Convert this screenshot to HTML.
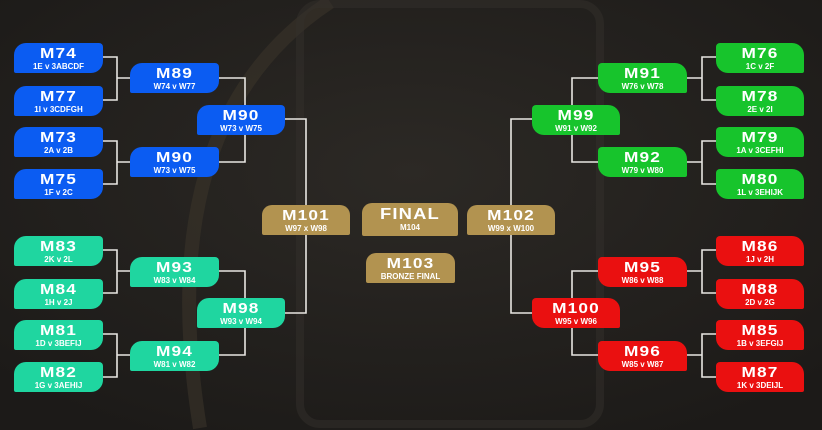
<!DOCTYPE html>
<html><head><meta charset="utf-8"><style>
html,body{margin:0;width:822px;height:430px;overflow:hidden}
body{background:#22201d;position:relative;font-family:"Liberation Sans",Arial,sans-serif}
.b{position:absolute;color:#fff;text-align:center;box-sizing:border-box;height:30px;overflow:hidden}
.b b{display:block;font-size:15px;line-height:15px;margin-top:3px;font-weight:900;letter-spacing:1px;transform:scaleX(1.15)}
.b span{display:block;font-size:8px;line-height:9px;margin-top:1px;font-weight:bold}
.L{border-radius:12px 4px 12px 2px}
.R{border-radius:4px 12px 2px 12px}
.bl{background:#0b5cf2}.gr{background:#17c42c}.rd{background:#ea1010}.tl{background:#1fd6a0}.gd{background:#b29350;border-radius:10px 10px 2px 2px}
svg{position:absolute;left:0;top:0}
</style></head><body>
<svg width="822" height="430">
<defs><radialGradient id="g" cx="0.5" cy="0.4" r="0.7"><stop offset="0" stop-color="#2c2925"/><stop offset="1" stop-color="#1c1a18"/></radialGradient></defs>
<rect width="822" height="430" fill="url(#g)"/>
<path d="M200 428 Q150 120 330 2" stroke="#3a342a" stroke-width="14" fill="none" opacity=".6"/>
<rect x="300" y="4" width="300" height="420" rx="20" fill="none" stroke="#33302b" stroke-width="8" opacity=".5"/>
<g stroke="#e8e6e2" stroke-width="1.6" fill="none">
<path d="M103 57H117V100H103M117 78H130"/>
<path d="M103 141H117V184H103M117 162H130"/>
<path d="M103 250H117V293H103M117 271H130"/>
<path d="M103 334H117V377H103M117 355H130"/>
<path d="M219 78H245V105M219 162H245V134"/>
<path d="M219 271H245V298M219 355H245V328"/>
<path d="M285 119H306V205M285 313H306V235"/>
<path d="M716 57H702V100H716M702 78H687"/>
<path d="M716 141H702V184H716M702 162H687"/>
<path d="M716 250H702V293H716M702 271H687"/>
<path d="M716 334H702V377H716M702 355H687"/>
<path d="M598 78H572V105M598 162H572V134"/>
<path d="M598 271H572V298M598 355H572V328"/>
<path d="M532 119H511V205M532 313H511V235"/>
</g></svg>
<div class="b L bl" style="left:14px;top:43px;width:89px"><b>M74</b><span>1E v 3ABCDF</span></div>
<div class="b L bl" style="left:14px;top:86px;width:89px"><b>M77</b><span>1I v 3CDFGH</span></div>
<div class="b L bl" style="left:14px;top:127px;width:89px"><b>M73</b><span>2A v 2B</span></div>
<div class="b L bl" style="left:14px;top:169px;width:89px"><b>M75</b><span>1F v 2C</span></div>
<div class="b L tl" style="left:14px;top:236px;width:89px"><b>M83</b><span>2K v 2L</span></div>
<div class="b L tl" style="left:14px;top:279px;width:89px"><b>M84</b><span>1H v 2J</span></div>
<div class="b L tl" style="left:14px;top:320px;width:89px"><b>M81</b><span>1D v 3BEFIJ</span></div>
<div class="b L tl" style="left:14px;top:362px;width:89px"><b>M82</b><span>1G v 3AEHIJ</span></div>
<div class="b L bl" style="left:130px;top:63px;width:89px"><b>M89</b><span>W74 v W77</span></div>
<div class="b L bl" style="left:130px;top:147px;width:89px"><b>M90</b><span>W73 v W75</span></div>
<div class="b L tl" style="left:130px;top:257px;width:89px"><b>M93</b><span>W83 v W84</span></div>
<div class="b L tl" style="left:130px;top:341px;width:89px"><b>M94</b><span>W81 v W82</span></div>
<div class="b L bl" style="left:197px;top:105px;width:88px"><b>M90</b><span>W73 v W75</span></div>
<div class="b L tl" style="left:197px;top:298px;width:88px"><b>M98</b><span>W93 v W94</span></div>
<div class="b gd" style="left:262px;top:205px;width:88px"><b>M101</b><span>W97 x W98</span></div>
<div class="b gd" style="left:362px;top:203px;width:96px;height:33px"><b style="font-size:16px;margin-top:4px">FINAL</b><span>M104</span></div>
<div class="b gd" style="left:467px;top:205px;width:88px"><b>M102</b><span>W99 x W100</span></div>
<div class="b gd" style="left:366px;top:253px;width:89px"><b>M103</b><span>BRONZE FINAL</span></div>
<div class="b R gr" style="left:532px;top:105px;width:88px"><b>M99</b><span>W91 v W92</span></div>
<div class="b R rd" style="left:532px;top:298px;width:88px"><b>M100</b><span>W95 v W96</span></div>
<div class="b R gr" style="left:598px;top:63px;width:89px"><b>M91</b><span>W76 v W78</span></div>
<div class="b R gr" style="left:598px;top:147px;width:89px"><b>M92</b><span>W79 v W80</span></div>
<div class="b R rd" style="left:598px;top:257px;width:89px"><b>M95</b><span>W86 v W88</span></div>
<div class="b R rd" style="left:598px;top:341px;width:89px"><b>M96</b><span>W85 v W87</span></div>
<div class="b R gr" style="left:716px;top:43px;width:88px"><b>M76</b><span>1C v 2F</span></div>
<div class="b R gr" style="left:716px;top:86px;width:88px"><b>M78</b><span>2E v 2I</span></div>
<div class="b R gr" style="left:716px;top:127px;width:88px"><b>M79</b><span>1A v 3CEFHI</span></div>
<div class="b R gr" style="left:716px;top:169px;width:88px"><b>M80</b><span>1L v 3EHIJK</span></div>
<div class="b R rd" style="left:716px;top:236px;width:88px"><b>M86</b><span>1J v 2H</span></div>
<div class="b R rd" style="left:716px;top:279px;width:88px"><b>M88</b><span>2D v 2G</span></div>
<div class="b R rd" style="left:716px;top:320px;width:88px"><b>M85</b><span>1B v 3EFGIJ</span></div>
<div class="b R rd" style="left:716px;top:362px;width:88px"><b>M87</b><span>1K v 3DEIJL</span></div>
</body></html>
